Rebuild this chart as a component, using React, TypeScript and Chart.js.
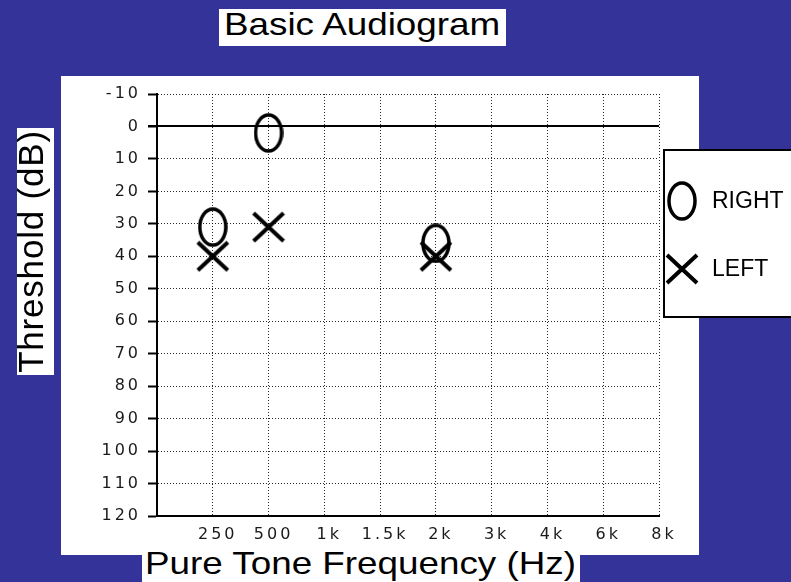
import React, { useEffect, useRef } from 'react';
import { Chart, registerables } from 'chart.js';

Chart.register(...registerables);

// ---- data ----
const frequencyLabels = ['', '250', '500', '1k', '1.5k', '2k', '3k', '4k', '6k', '8k'];
const rightFrequencies = ['250', '500', '2k'];
const rightThresholds = [31, 2, 36];
const leftFrequencies = ['250', '500', '2k'];
const leftThresholds = [40, 31, 40];
const seriesNames = ['RIGHT', 'LEFT'];
const thresholdMin = -10;
const thresholdMax = 120;
const thresholdStep = 10;

const titleText = 'Basic Audiogram';
const xTitle = 'Pure Tone Frequency (Hz)';
const yTitle = 'Threshold (dB)';

const BG = '#333399';
const BIG_FONT = '"Liberation Sans", Arial, Helvetica, sans-serif';

function makeEllipse(): HTMLCanvasElement {
  const c = document.createElement('canvas');
  c.width = 30;
  c.height = 40;
  const ctx = c.getContext('2d')!;
  ctx.strokeStyle = '#000';
  ctx.lineWidth = 3.5;
  ctx.beginPath();
  ctx.ellipse(15, 20, 13, 18, 0, 0, Math.PI * 2);
  ctx.stroke();
  return c;
}

function makeCross(): HTMLCanvasElement {
  const c = document.createElement('canvas');
  c.width = 34;
  c.height = 32;
  const ctx = c.getContext('2d')!;
  ctx.strokeStyle = '#000';
  ctx.lineWidth = 4;
  ctx.lineCap = 'butt';
  ctx.beginPath();
  ctx.moveTo(2, 2);
  ctx.lineTo(32, 30);
  ctx.moveTo(32, 2);
  ctx.lineTo(2, 30);
  ctx.stroke();
  return c;
}

const spacingPlugin = {
  id: 'spacing',
  beforeDraw(chart: any) {
    try {
      (chart.ctx as any).letterSpacing = '3px';
    } catch (e) {}
  },
};

const zeroLinePlugin = {
  id: 'zeroLine',
  beforeDatasetsDraw(chart: any) {
    const ctx = chart.ctx;
    const y = Math.round(chart.scales.y.getPixelForValue(0));
    ctx.save();
    ctx.strokeStyle = '#000';
    ctx.lineWidth = 2;
    ctx.beginPath();
    ctx.moveTo(chart.chartArea.left - 9, y);
    ctx.lineTo(chart.chartArea.right, y);
    ctx.stroke();
    ctx.restore();
  },
};

const boxLegendPlugin = {
  id: 'boxLegend',
  afterDraw(chart: any) {
    const ctx = chart.ctx;
    ctx.save();
    try {
      (ctx as any).letterSpacing = '0px';
    } catch (e) {}
    ctx.fillStyle = '#fff';
    ctx.fillRect(664, 150, 140, 167);
    ctx.strokeStyle = '#000';
    ctx.lineWidth = 2;
    ctx.strokeRect(664, 150, 140, 167);
    const rows = [201, 269];
    chart.data.datasets.forEach((ds: any, i: number) => {
      const img = ds.pointStyle as HTMLCanvasElement;
      ctx.drawImage(img, Math.round(682 - img.width / 2), Math.round(rows[i] - img.height / 2));
      ctx.fillStyle = '#000';
      ctx.font = '23px ' + BIG_FONT;
      ctx.textBaseline = 'middle';
      ctx.textAlign = 'left';
      ctx.fillText(ds.label, 712, rows[i] + 1);
    });
    ctx.restore();
  },
};

function AudiogramChart() {
  const ref = useRef<HTMLCanvasElement | null>(null);
  useEffect(() => {
    if (!ref.current) return;
    const ellipse = makeEllipse();
    const cross = makeCross();
    const tickFont = { family: '"DejaVu Sans", Verdana, sans-serif', size: 16 };
    const gridColor = 'rgba(0,0,0,0.85)';
    const chart = new Chart(ref.current, {
      type: 'line',
      data: {
        labels: frequencyLabels,
        datasets: [
          {
            label: seriesNames[0],
            data: rightFrequencies.map((f, i) => ({ x: f, y: rightThresholds[i] })) as any,
            showLine: false,
            pointStyle: ellipse as any,
            pointRadius: 15,
            borderColor: '#000',
            backgroundColor: '#000',
          },
          {
            label: seriesNames[1],
            data: leftFrequencies.map((f, i) => ({ x: f, y: leftThresholds[i] })) as any,
            showLine: false,
            pointStyle: cross as any,
            pointRadius: 15,
            borderColor: '#000',
            backgroundColor: '#000',
          },
        ],
      },
      options: {
        responsive: false,
        animation: false,
        devicePixelRatio: 1,
        layout: { padding: { left: 97, right: 132, top: 94, bottom: 26 } },
        plugins: {
          legend: { display: false },
          tooltip: { enabled: false },
          title: { display: false },
        },
        scales: {
          x: {
            type: 'category',
            offset: false,
            afterFit: (s: any) => {
              s.height = 40;
            },
            grid: {
              color: gridColor,
              lineWidth: 1,
              drawTicks: false,
              borderDash: [1, 2],
            } as any,
            border: { display: true, color: '#000', width: 2, dash: [1, 2] },
            ticks: {
              autoSkip: false,
              maxRotation: 0,
              padding: 9,
              labelOffset: 5,
              color: '#1a1a1a',
              font: tickFont,
            },
          },
          y: {
            type: 'linear',
            reverse: true,
            min: thresholdMin,
            max: thresholdMax,
            afterFit: (s: any) => {
              s.width = 60;
            },
            grid: {
              color: (c: any) => (c.tick && c.tick.value === 0 ? 'rgba(0,0,0,0)' : gridColor),
              lineWidth: 1,
              drawTicks: true,
              tickLength: 9,
              tickColor: '#000',
              tickWidth: 2,
              tickBorderDash: [],
              borderDash: [1, 2],
            } as any,
            border: { display: true, color: '#000', width: 2, dash: [1, 2] },
            ticks: {
              stepSize: thresholdStep,
              padding: 7,
              color: '#1a1a1a',
              font: tickFont,
            },
          },
        },
      } as any,
      plugins: [spacingPlugin, zeroLinePlugin, boxLegendPlugin],
    });
    return () => chart.destroy();
  }, []);
  return (
    <canvas
      ref={ref}
      width={791}
      height={582}
      style={{ position: 'absolute', left: 0, top: 0, width: 791, height: 582 }}
    />
  );
}

export default function App() {
  const box: React.CSSProperties = {
    position: 'absolute',
    background: '#fff',
    color: '#000',
    fontFamily: BIG_FONT,
    whiteSpace: 'nowrap',
    overflow: 'hidden',
  };
  const wideText: React.CSSProperties = {
    display: 'inline-block',
    fontSize: 32,
    transform: 'scaleX(1.15)',
    transformOrigin: 'left center',
  };
  return (
    <div
      style={{
        position: 'fixed',
        left: 0,
        top: 0,
        width: 791,
        height: 582,
        background: BG,
        overflow: 'hidden',
      }}
    >
      <div style={{ position: 'absolute', left: 61, top: 76, width: 638, height: 479, background: '#fff' }} />
      <AudiogramChart />
      <div style={{ ...box, left: 219, top: 9, width: 282, height: 37, lineHeight: '31px', paddingLeft: 5 }}>
        <span style={wideText}>{titleText}</span>
      </div>
      <div style={{ ...box, left: 142, top: 541, width: 435, height: 44, lineHeight: '44px', paddingLeft: 3 }}>
        <span style={wideText}>{xTitle}</span>
      </div>
      <div
        style={{
          ...box,
          left: -88,
          top: 233,
          width: 247,
          height: 37,
          fontSize: 35,
          letterSpacing: '0.8px',
          lineHeight: '28px',
          textAlign: 'center',
          transform: 'rotate(-90deg)',
        }}
      >
        {yTitle}
      </div>
    </div>
  );
}
